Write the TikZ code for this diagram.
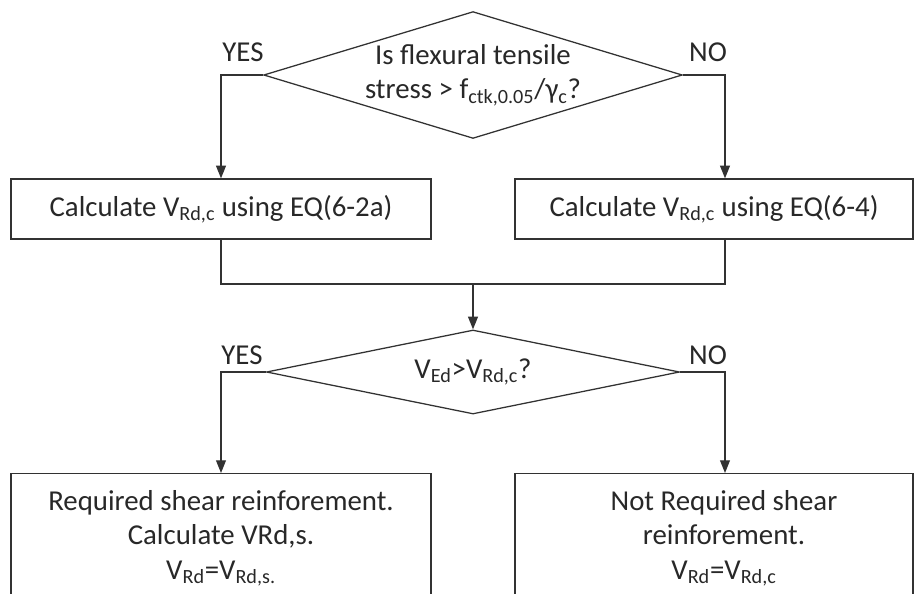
\documentclass[tikz,border=0pt]{standalone}
\usepackage{fontspec}
\setmainfont{Carlito}
\usetikzlibrary{
    positioning,
    shapes.geometric,
    arrows.meta,
    calc
}
\definecolor{inkcolor}{RGB}{50, 50, 50}
\definecolor{textcolor}{RGB}{40, 40, 40}

\begin{document}
\begin{tikzpicture}[
    x=0.025cm, y=-0.025cm,
    % Decision diamond
    decision/.style={
        diamond,
        draw=inkcolor,
        aspect=#1,
        inner sep=0pt,
        align=center,
        text=textcolor,
        font=\fontsize{20.5}{24.5}\selectfont,
        line width=0.9pt
    },
    % Calculation box
    process/.style={
        rectangle,
        draw=inkcolor,
        minimum height=1.5cm,
        text=textcolor,
        font=\fontsize{20.5}{24.5}\selectfont,
        line width=0.9pt
    },
    % Result box (runs off the page)
    outcome/.style={
        rectangle,
        draw=inkcolor,
        minimum height=4cm,
        anchor=north,
        line width=0.9pt
    },
    % Result text
    note/.style={
        align=center,
        anchor=north,
        inner sep=0pt,
        text=textcolor,
        font=\fontsize{20.5}{24.5}\selectfont
    },
    % Branch label
    answer/.style={
        inner sep=0pt,
        text=textcolor,
        font=\fontsize{20.5}{24.5}\selectfont
    },
    % Arrow style
    arrow/.style={
        -{Triangle[length=9pt, width=7pt]},
        draw=inkcolor,
        line width=0.9pt
    },
    % Plain connector
    link/.style={
        draw=inkcolor,
        line width=0.9pt
    }
]

\clip (0,0) rectangle (920,593);
\fill[white] (0,0) rectangle (920,593);

% ============================================
% FIRST CHECK
% ============================================

\node[decision=3.3, minimum width=10.425cm, minimum height=3.15cm] (decA) at (473,75)
    {Is flexural tensile\\stress > f\textsubscript{ctk,0.05}/γ\textsubscript{c}?};

\node[answer] (yesAlbl) at (243,52) {YES};
\node[answer] (noAlbl) at (708,52) {NO};

\coordinate (yesA) at (221,75);
\coordinate (noA) at (725,75);

% ============================================
% SHEAR RESISTANCE WITHOUT REINFORCEMENT
% ============================================

\node[process, minimum width=10.5cm] (calcA) at (221,209)
    {Calculate V\textsubscript{Rd,c} using EQ(6-2a)};
\node[process, minimum width=9.95cm] (calcB) at (714,209)
    {Calculate V\textsubscript{Rd,c} using EQ(6-4)};

\draw[arrow] (decA.west) -- (yesA) -- (yesA |- calcA.north);
\draw[arrow] (decA.east) -- (noA) -- (noA |- calcB.north);

% Merge both branches
\coordinate (join) at (473,284);
\draw[link] (calcA.south) -- (calcA.south |- join) -- (noA |- join) -- (noA |- calcB.south);

% ============================================
% SECOND CHECK
% ============================================

\node[decision=4.9, minimum width=10.325cm, minimum height=2.1cm] (decB) at (473,372)
    {V\textsubscript{Ed}>V\textsubscript{Rd,c}?};

\draw[arrow] (join) -- (decB.north);

\node[answer] (yesBlbl) at (242,355) {YES};
\node[answer] (noBlbl) at (708,355) {NO};

\coordinate (yesB) at (221,372);
\coordinate (noB) at (725,372);

% ============================================
% RESULTS
% ============================================

\node[outcome, minimum width=10.5cm] (reqBox) at (221,473) {};
\node[outcome, minimum width=9.95cm] (nreqBox) at (714,473) {};

\node[note] (reqText) at (221,490)
    {Required shear reinforement.\\
     Calculate VRd,s.\\
     V\textsubscript{Rd}=V\textsubscript{Rd,s.}};
\node[note] (nreqText) at (724,490)
    {Not Required shear\\
     reinforement.\\
     V\textsubscript{Rd}=V\textsubscript{Rd,c}};

\draw[arrow] (decB.west) -- (yesB) -- (yesB |- reqBox.north);
\draw[arrow] (decB.east) -- (noB) -- (noB |- nreqBox.north);

\end{tikzpicture}
\end{document}
